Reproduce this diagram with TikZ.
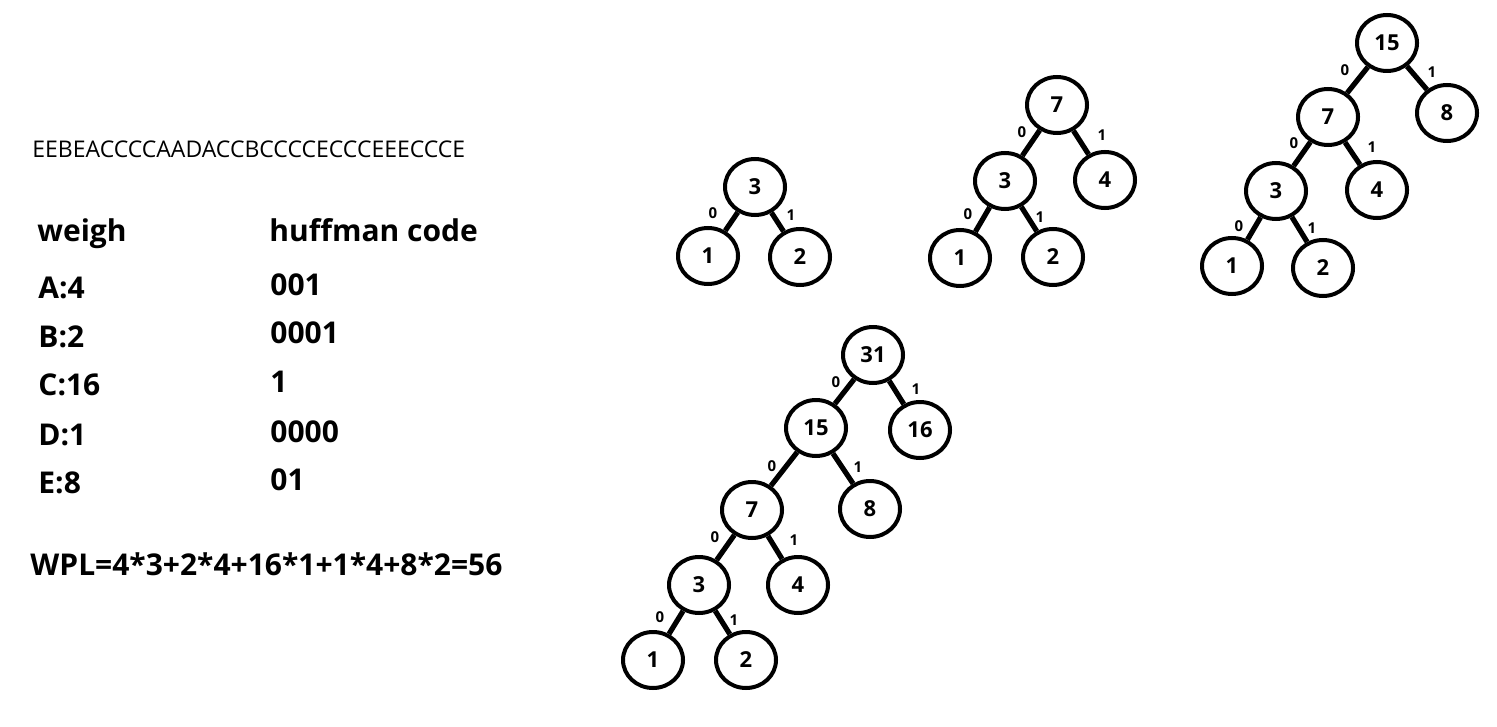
\documentclass[tikz,border=0pt]{standalone}
\usepackage{fontspec}
\setmainfont{Open Sans}
\usetikzlibrary{shapes.geometric}
\begin{document}
\begin{tikzpicture}[x=0.5pt,y=-0.5pt,
  tn/.style={ellipse,draw,line width=2pt,minimum width=30pt,minimum height=28pt,inner sep=0pt,font=\fontsize{11}{12}\selectfont\bfseries},
  br/.style={line width=2.6pt},
  bl/.style={inner sep=0pt,font=\fontsize{7.5}{8}\selectfont\bfseries},
  tx/.style={anchor=base west,inner sep=0pt,font=\fontsize{11.5}{13}\selectfont},
  bt/.style={anchor=base west,inner sep=0pt,font=\fontsize{15}{17}\selectfont\bfseries}]
\useasboundingbox[fill=white] (0,0) rectangle (1497,727);
% left text
\node[tx] (seq) at (32,158) {EEBEACCCCAADACCBCCCCECCCEEECCCE};
\node[bt] (wh) at (37,242) {weigh};
\node[bt] (hc) at (269,242) {huffman code};
\node[bt] (wa) at (38,298) {A:4};
\node[bt] (wb) at (38,347) {B:2};
\node[bt] (wc) at (38,395) {C:16};
\node[bt] (wd) at (38,445) {D:1};
\node[bt] (we) at (38,493) {E:8};
\node[bt] (ca) at (270,295) {001};
\node[bt] (cb) at (270,343) {0001};
\node[bt] (cc) at (270,392) {1};
\node[bt] (cd) at (270,442) {0000};
\node[bt] (ce) at (270,490) {01};
\node[bt] (wpl) at (30,575) {WPL=4*3+2*4+16*1+1*4+8*2=56};
% tree 1
\node[tn] (t1a) at (755,187) {3};
\node[tn] (t1b) at (708,256) {1};
\node[tn] (t1c) at (800,257) {2};
\draw[br] (t1a) -- (t1b);
\draw[br] (t1a) -- (t1c);
\node[bl] (l1a) at (713,213) {0};
\node[bl] (l1b) at (791,215) {1};
% tree 2
\node[tn] (t2a) at (1057,105) {7};
\node[tn] (t2b) at (1005,181) {3};
\node[tn] (t2c) at (1105,180) {4};
\node[tn] (t2d) at (960,258) {1};
\node[tn] (t2e) at (1053,257) {2};
\draw[br] (t2a) -- (t2b);
\draw[br] (t2a) -- (t2c);
\draw[br] (t2b) -- (t2d);
\draw[br] (t2b) -- (t2e);
\node[bl] (l2a) at (1022,132) {0};
\node[bl] (l2b) at (1102,135) {1};
\node[bl] (l2c) at (968,214) {0};
\node[bl] (l2d) at (1040,217) {1};
% tree 3
\node[tn] (t3a) at (1387,43) {15};
\node[tn] (t3b) at (1447,113) {8};
\node[tn] (t3c) at (1328,117) {7};
\node[tn] (t3d) at (1377,190) {4};
\node[tn] (t3e) at (1276,191) {3};
\node[tn] (t3f) at (1232,266) {1};
\node[tn] (t3g) at (1323,268) {2};
\draw[br] (t3a) -- (t3c);
\draw[br] (t3a) -- (t3b);
\draw[br] (t3c) -- (t3e);
\draw[br] (t3c) -- (t3d);
\draw[br] (t3e) -- (t3f);
\draw[br] (t3e) -- (t3g);
\node[bl] (l3a) at (1345,70) {0};
\node[bl] (l3b) at (1432,72) {1};
\node[bl] (l3c) at (1294,143) {0};
\node[bl] (l3d) at (1372,147) {1};
\node[bl] (l3e) at (1239,226) {0};
\node[bl] (l3f) at (1312,228) {1};
% tree 4
\node[tn] (t4a) at (873,355) {31};
\node[tn] (t4b) at (920,430) {16};
\node[tn] (t4c) at (816,428) {15};
\node[tn] (t4d) at (870,509) {8};
\node[tn] (t4e) at (752,510) {7};
\node[tn] (t4f) at (798,585) {4};
\node[tn] (t4g) at (699,585) {3};
\node[tn] (t4h) at (653,660) {1};
\node[tn] (t4i) at (746,660) {2};
\draw[br] (t4a) -- (t4c);
\draw[br] (t4a) -- (t4b);
\draw[br] (t4c) -- (t4e);
\draw[br] (t4c) -- (t4d);
\draw[br] (t4e) -- (t4g);
\draw[br] (t4e) -- (t4f);
\draw[br] (t4g) -- (t4h);
\draw[br] (t4g) -- (t4i);
\node[bl] (l4a) at (836,382) {0};
\node[bl] (l4b) at (916,389) {1};
\node[bl] (l4c) at (772,466) {0};
\node[bl] (l4d) at (858,467) {1};
\node[bl] (l4e) at (715,537) {0};
\node[bl] (l4f) at (794,540) {1};
\node[bl] (l4g) at (660,617) {0};
\node[bl] (l4h) at (734,620) {1};
\end{tikzpicture}
\end{document}
